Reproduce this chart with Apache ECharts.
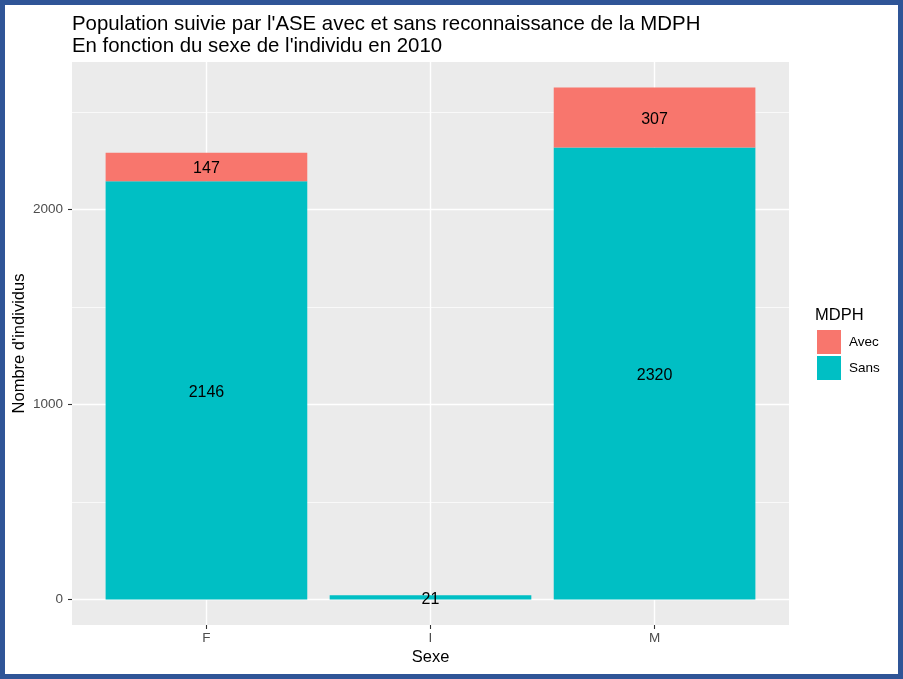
<!DOCTYPE html>
<html>
<head>
<meta charset="utf-8">
<script src="https://cdn.jsdelivr.net/npm/echarts@6/dist/echarts.min.js"></script>
<style>
  html, body { margin: 0; padding: 0; background: #fff; }
  #chart { position: absolute; left: 0; top: 0; width: 903px; height: 679px; }
  #frame { position: absolute; left: 0; top: 0; width: 903px; height: 679px; box-sizing: border-box; border: 5px solid #2F5597; pointer-events: none; }
</style>
</head>
<body>
<div id="chart"></div>
<div id="frame"></div>
<script>
// ---- data ----
const categories = ['F', 'I', 'M'];
const sansValues = [2146, 21, 2320];
const avecValues = [147, null, 307];
const yTickValues = [0, 1000, 2000];
const yMinorValues = [500, 1500, 2500];
const xTickPositions = [1, 2, 3];

const FONT = '"Liberation Sans", Arial, Helvetica, sans-serif';
const totals = categories.map((c, i) => (sansValues[i] || 0) + (avecValues[i] || 0));
const maxTotal = Math.max.apply(null, totals);
const yMin = -0.05 * maxTotal;
const yMax = maxTotal * 1.05;

// discrete scale: 3 categories with 0.6 expansion on each side
const panelLeft = 72, panelRight = 114, panelTop = 62, panelBottom = 54;
const panelWidth = 903 - panelLeft - panelRight;
const unit = panelWidth / (categories.length - 1 + 1.2);
const barGridLeft = panelLeft + unit * 0.1;
const barGridRight = panelRight + unit * 0.1;

const chart = echarts.init(document.getElementById('chart'), null, { renderer: 'canvas' });

const option = {
  animation: false,
  textStyle: { fontFamily: FONT },
  title: [
    {
      text: "Population suivie par l'ASE avec et sans reconnaissance de la MDPH\nEn fonction du sexe de l'individu en 2010",
      left: 67, top: 8,
      textStyle: { fontFamily: FONT, fontSize: 20.4, fontWeight: 'normal', color: '#000', lineHeight: 22 }
    },
    {
      text: 'MDPH',
      left: 810, top: 302,
      textStyle: { fontFamily: FONT, fontSize: 16.5, fontWeight: 'normal', color: '#000' }
    }
  ],
  legend: {
    data: ['Avec', 'Sans'],
    orient: 'vertical',
    left: 812, top: 325,
    icon: 'rect',
    itemWidth: 24, itemHeight: 24, itemGap: 2,
    selectedMode: false,
    textStyle: { fontFamily: FONT, fontSize: 13.5, color: '#000', padding: [0, 0, 0, 3] }
  },
  grid: [
    { left: panelLeft, right: panelRight, top: panelTop, bottom: panelBottom, show: true, backgroundColor: '#EBEBEB', borderWidth: 0,
      containLabel: false, outerBoundsMode: 'none' },
    { left: barGridLeft, right: barGridRight, top: panelTop, bottom: panelBottom, show: false,
      containLabel: false, outerBoundsMode: 'none' }
  ],
  xAxis: [
    {
      type: 'value', gridIndex: 0, min: 0.4, max: categories.length + 0.6,
      name: 'Sexe', nameLocation: 'middle', nameGap: 24, nameMoveOverlap: false,
      nameTextStyle: { fontFamily: FONT, fontSize: 16.5, color: '#000' },
      axisLine: { show: false, onZero: false },
      axisTick: { show: true, length: 4, lineStyle: { color: '#333', width: 1.1 }, customValues: xTickPositions },
      axisLabel: {
        show: true, margin: 6, fontFamily: FONT, fontSize: 13.5, color: '#4D4D4D',
        customValues: xTickPositions,
        formatter: v => categories[Math.round(v) - 1] || ''
      },
      splitLine: { show: true, lineStyle: { color: '#FFFFFF', width: 1.4 } }
    },
    {
      type: 'category', gridIndex: 1, data: categories, boundaryGap: true, show: false,
      axisLine: { onZero: false }
    }
  ],
  yAxis: [
    {
      type: 'value', gridIndex: 0, min: yMin, max: yMax,
      name: "Nombre d'individus", nameLocation: 'middle', nameGap: 44, nameMoveOverlap: false,
      nameTextStyle: { fontFamily: FONT, fontSize: 16.5, color: '#000' },
      axisLine: { show: false, onZero: false },
      axisTick: { show: true, length: 4, lineStyle: { color: '#333', width: 1.1 }, customValues: yTickValues },
      axisLabel: { show: true, margin: 9, fontFamily: FONT, fontSize: 13.5, color: '#4D4D4D', customValues: yTickValues,
        formatter: v => String(Math.round(v)) },
      splitLine: { show: true, lineStyle: { color: '#FFFFFF', width: 1.4 } }
    },
    {
      type: 'value', gridIndex: 0, min: yMin, max: yMax, position: 'right',
      axisLine: { show: false, onZero: false },
      axisTick: { show: false, customValues: yMinorValues },
      axisLabel: { show: false, customValues: yMinorValues },
      splitLine: { show: true, lineStyle: { color: '#FFFFFF', width: 0.7 } }
    },
    {
      type: 'value', gridIndex: 1, min: yMin, max: yMax, show: false,
      splitLine: { show: false }
    }
  ],
  series: [
    {
      name: 'Sans', type: 'bar', xAxisIndex: 1, yAxisIndex: 2, stack: 'total',
      barWidth: '90%',
      data: sansValues,
      itemStyle: { color: '#00BFC4' },
      label: { show: true, position: 'inside', color: '#000', fontFamily: FONT, fontSize: 16, offset: [0, 2] },
      emphasis: { disabled: true }
    },
    {
      name: 'Avec', type: 'bar', xAxisIndex: 1, yAxisIndex: 2, stack: 'total',
      barWidth: '90%',
      data: avecValues,
      itemStyle: { color: '#F8766D' },
      label: { show: true, position: 'inside', color: '#000', fontFamily: FONT, fontSize: 16, offset: [0, 2] },
      emphasis: { disabled: true }
    }
  ]
};

chart.setOption(option);
</script>
</body>
</html>
